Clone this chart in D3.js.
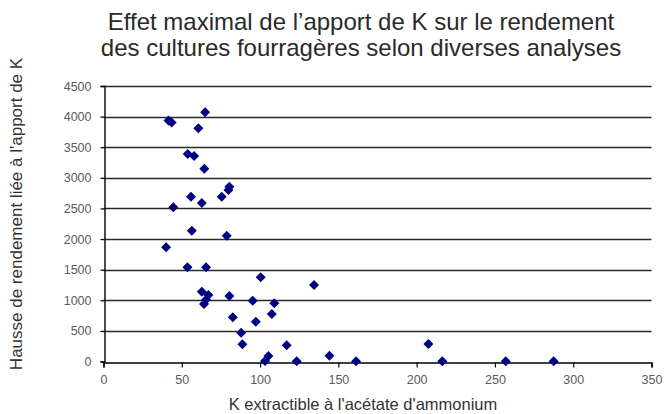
<!DOCTYPE html>
<html><head><meta charset="utf-8">
<script src="https://cdn.jsdelivr.net/npm/d3@7"></script>
<style>body{margin:0;background:#fff}svg{display:block}</style>
</head><body>
<script>
const titleLines = ["Effet maximal de l\u2019apport de K sur le rendement", "des cultures fourragères selon diverses analyses"];
const xLabel = "K extractible à l'acétate d'ammonium";
const yLabel = "Hausse de rendement liée à l'apport de K";
const xTicks = [0, 50, 100, 150, 200, 250, 300, 350];
const yTicks = [0, 500, 1000, 1500, 2000, 2500, 3000, 3500, 4000, 4500];
const kValues = [64.9, 41.5, 43.5, 60.6, 53.8, 57.9, 64.4, 80.4, 79.8, 75.5, 55.9, 62.8, 44.6, 56.4, 78.7, 40, 53.6, 65.5, 100.4, 134.5, 62.8, 67, 65.5, 64.2, 80.4, 95.3, 109.1, 107.5, 82.6, 97.3, 87.9, 88.7, 117, 105.3, 103.2, 123.4, 144.3, 161.3, 207.5, 216.4, 256.9, 287.5];
const yieldGain = [4071, 3935, 3905, 3809, 3389, 3357, 3149, 2855, 2801, 2692, 2692, 2589, 2519, 2137, 2055, 1865, 1539, 1539, 1375, 1250, 1140, 1086, 1010, 939, 1070, 993, 951, 776, 722, 650, 470, 281, 265, 90, 10, 5, 95, 5, 286, 5, 5, 5];

const W = 665, H = 414;
const svg = d3.select("body").append("svg").attr("width", W).attr("height", H);
const font = "'Liberation Sans', Arial, sans-serif";

const x = d3.scaleLinear().domain([0, 350]).range([103.5, 651.5]);
const y = d3.scaleLinear().domain([0, 4500]).range([361.5, 86]);

// gridlines
svg.append("g").selectAll("line").data(yTicks.filter(d => d > 0)).join("line")
  .attr("x1", x(0)).attr("x2", x(350))
  .attr("y1", d => Math.round(y(d)) + 0.5).attr("y2", d => Math.round(y(d)) + 0.5)
  .attr("stroke", "#2a2a2a").attr("stroke-width", 1.3);

// axes
const xAxis = d3.axisBottom(x).tickValues(xTicks).tickSize(5).tickPadding(8).tickFormat(d3.format("d"));
const gx = svg.append("g").attr("transform", `translate(0,${Math.round(y(0)) + 0.5})`).call(xAxis);
const yAxis = d3.axisLeft(y).tickValues(yTicks).tickSize(4).tickPadding(9).tickFormat(d3.format("d"));
const gy = svg.append("g").attr("transform", `translate(${Math.round(x(0)) + 0.5},0)`).call(yAxis);
[gx, gy].forEach(g => {
  g.select(".domain").attr("stroke", "#000").attr("stroke-width", 1.4);
  g.selectAll(".tick line").attr("stroke", "#000").attr("stroke-width", 1.2);
  g.selectAll("text").attr("fill", "#5a5a5a").style("font-family", font).style("font-size", "12.5px");
});

// points
const diamond = d3.symbol().type(d3.symbolSquare).size(50);
svg.append("g").selectAll("path").data(kValues.map((k, i) => [k, yieldGain[i]])).join("path")
  .attr("d", diamond)
  .attr("transform", d => `translate(${x(d[0])},${y(d[1])}) rotate(45)`)
  .attr("fill", "#000080");

// title
svg.append("g").selectAll("text").data(titleLines).join("text")
  .attr("x", 361).attr("y", (d, i) => 30 + i * 26)
  .attr("text-anchor", "middle").attr("fill", "#2a2a2a")
  .style("font-family", font).style("font-size", "24px").text(d => d);

// axis labels
svg.append("text").attr("x", 363).attr("y", 410).attr("text-anchor", "middle")
  .attr("fill", "#333").style("font-family", font).style("font-size", "16.5px").text(xLabel);
svg.append("text").attr("transform", "translate(22,214) rotate(-90)").attr("text-anchor", "middle")
  .attr("fill", "#333").style("font-family", font).style("font-size", "17px").text(yLabel);
</script>
</body></html>
